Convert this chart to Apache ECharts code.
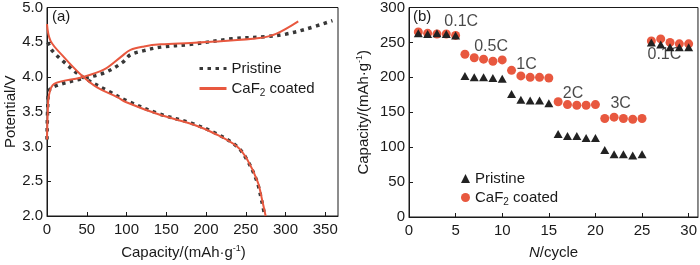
<!DOCTYPE html>
<html>
<head>
<meta charset="utf-8">
<script src="https://cdn.jsdelivr.net/npm/echarts@6/dist/echarts.min.js"></script>
<style>
html,body{margin:0;padding:0;background:#fff;}
#chart{width:700px;height:265px;}
</style>
</head>
<body>
<div id="chart"></div>
<script>
// (a) charge / discharge curves: capacity (mAh/g) and potential (V)
var pristineChargeCap = [0, 1, 2.5, 13, 42, 72, 95, 105, 122, 143, 181, 233, 275, 301, 326, 359];
var pristineChargeV   = [3.1, 3.6, 3.8, 3.88, 3.97, 4.06, 4.21, 4.32, 4.38, 4.43, 4.47, 4.55, 4.58, 4.62, 4.69, 4.81];
var pristineDisCap = [1, 6.5, 19, 42, 80, 100, 141, 183, 212, 238, 251, 264, 270, 274];
var pristineDisV   = [4.5, 4.38, 4.24, 4.02, 3.78, 3.66, 3.47, 3.33, 3.19, 3.01, 2.82, 2.5, 2.22, 2.0];
var coatedChargeCap = [0, 1, 2.5, 9, 42, 72, 93, 105, 122, 143, 181, 212, 267, 288, 316];
var coatedChargeV   = [3.1, 3.5, 3.74, 3.9, 3.99, 4.11, 4.29, 4.39, 4.44, 4.47, 4.49, 4.51, 4.56, 4.62, 4.8];
var coatedDisCap = [0, 4.5, 21, 42, 63, 88.5, 99, 141, 183, 212, 239, 252, 265, 271, 275];
var coatedDisV   = [4.76, 4.52, 4.29, 4.04, 3.85, 3.71, 3.64, 3.46, 3.32, 3.18, 3.0, 2.81, 2.49, 2.21, 2.0];

// (b) rate capability: capacity (mAh/g) per cycle
var cycles = [1,2,3,4,5,6,7,8,9,10,11,12,13,14,15,16,17,18,19,20,21,22,23,24,25,26,27,28,29,30];
var pristineRate = [263,262,263,262,260, 202,200,200,199,198, 176,168,167,167,163, 119,116,116,113,113, 96,90,90,88,90, 250,247,243,243,243];
var coatedRate   = [265,263,262,262,260, 233,228,226,223,225, 210,202,200,200,199, 165,161,160,160,161, 141,143,141,140,141, 252,255,250,248,248];

// rate labels (cycle, capacity)
var rateNames = ['0.1C', '0.5C', '1C', '2C', '3C', '0.1C'];
var rateX = [5.6, 8.8, 12.6, 17.6, 22.7, 27.4];
var rateY = [280, 244, 218, 177, 163, 232];

var legendText = {
    'Pristine': '{n|Pristine}',
    'CaF2 coated': '{n|CaF}{s|2}{n| coated}',
    'Pristine-b': '{n|Pristine}',
    'CaF2 coated-b': '{n|CaF}{s|2}{n| coated}'
};

function zip(a, b){
    var out = [];
    for (var i = 0; i < a.length; i++) out.push([a[i], b[i]]);
    return out;
}

var FONT = '"Liberation Sans", Arial, sans-serif';
var INK = '#1a1a1a';
var RED = '#e8583f';
var DOT = '#383838';

var richLegend = {
    n: {fontSize: 15, fontFamily: FONT, color: INK},
    s: {fontSize: 10, fontFamily: FONT, color: INK, padding: [9, 0, 0, 0]}
};

function baseAxis(){
    return {
        axisLine: {show: true, lineStyle: {color: INK, width: 1}},
        axisTick: {show: true, inside: true, length: 4, lineStyle: {color: INK}},
        splitLine: {show: false},
        axisLabel: {color: INK, fontSize: 15, fontFamily: FONT},
        nameLocation: 'middle',
        nameTextStyle: {color: INK, fontSize: 15, fontFamily: FONT}
    };
}

var capRich = {
    n: {fontSize: 15, fontFamily: FONT, color: INK},
    sup: {fontSize: 9, fontFamily: FONT, color: INK, padding: [0, 0, 8, 0]}
};

var xa = Object.assign(baseAxis(), {
    gridIndex: 0, type: 'value', min: 0, max: 366, interval: 50,
    name: '{n|Capacity/(mAh·g}{sup|-1}{n|)}', nameGap: 28
});
xa.axisLabel = Object.assign({}, xa.axisLabel, {margin: 6, showMaxLabel: false});
xa.nameTextStyle = Object.assign({}, xa.nameTextStyle, {rich: capRich, padding: [0, 18, 0, 0]});

var ya = Object.assign(baseAxis(), {
    gridIndex: 0, type: 'value', min: 2, max: 5, interval: 0.5,
    name: 'Potential/V', nameGap: 27
});
ya.axisLabel = Object.assign({}, ya.axisLabel, {margin: 4, formatter: function(v){ return v.toFixed(1); }});

var xb = Object.assign(baseAxis(), {
    gridIndex: 1, type: 'value', min: 0, max: 31, interval: 5,
    name: '{i|N}{n|/cycle}', nameGap: 28
});
xb.axisLabel = Object.assign({}, xb.axisLabel, {margin: 6, showMaxLabel: false});
xb.nameTextStyle = Object.assign({}, xb.nameTextStyle, {rich: {
    n: {fontSize: 15, fontFamily: FONT, color: INK},
    i: {fontSize: 15, fontFamily: FONT, color: INK, fontStyle: 'italic'}
}});

var yb = Object.assign(baseAxis(), {
    gridIndex: 1, type: 'value', min: 0, max: 300, interval: 50,
    name: '{n|Capacity/(mAh·g}{sup|-1}{n|)}', nameGap: 37
});
yb.axisLabel = Object.assign({}, yb.axisLabel, {margin: 4});
yb.nameTextStyle = Object.assign({}, yb.nameTextStyle, {rich: capRich});

function curve(name, data, dotted){
    return {
        name: name, type: 'line', xAxisIndex: 0, yAxisIndex: 0,
        data: data, symbol: 'none', smooth: 0.35, silent: true,
        lineStyle: dotted ? {color: DOT, width: 3.5, type: [3.5, 4.5], cap: 'butt'} : {color: RED, width: 2},
        itemStyle: {color: dotted ? DOT : RED},
        z: dotted ? 2 : 3
    };
}

var chart = echarts.init(document.getElementById('chart'), null, {renderer: 'canvas'});
var option = {
    animation: false,
    backgroundColor: '#fff',
    grid: [
        {left: 47, top: 6, width: 291, height: 217, show: true, borderColor: INK, borderWidth: 1, backgroundColor: 'transparent'},
        {left: 409, top: 7, width: 289, height: 217, show: true, borderColor: INK, borderWidth: 1, backgroundColor: 'transparent'}
    ],
    xAxis: [xa, xb],
    yAxis: [ya, yb],
    legend: [
        {
            data: ['Pristine', 'CaF2 coated'], orient: 'vertical', left: 193, top: 56,
            itemWidth: 27, itemHeight: 12, itemGap: 5,
            itemStyle: {opacity: 0},
            lineStyle: {width: 3},
            formatter: function(n){ return legendText[n]; },
            textStyle: {rich: richLegend}, selectedMode: false
        },
        {
            data: ['Pristine-b', 'CaF2 coated-b'], orient: 'vertical', left: 456, top: 166,
            itemWidth: 9, itemHeight: 9, itemGap: 4,
            formatter: function(n){ return legendText[n]; },
            textStyle: {rich: richLegend}, selectedMode: false
        }
    ],
    graphic: [
        {type: 'text', left: 52, top: 9, style: {text: '(a)', fontSize: 15, fontFamily: FONT, fill: INK}},
        {type: 'text', left: 413, top: 9, style: {text: '(b)', fontSize: 15, fontFamily: FONT, fill: INK}}
    ],
    series: [
        curve('Pristine', zip(pristineChargeCap, pristineChargeV), true),
        curve('Pristine', zip(pristineDisCap, pristineDisV), true),
        curve('CaF2 coated', zip(coatedChargeCap, coatedChargeV), false),
        curve('CaF2 coated', zip(coatedDisCap, coatedDisV), false),
        {
            name: 'CaF2 coated-b', type: 'scatter', xAxisIndex: 1, yAxisIndex: 1,
            data: zip(cycles, coatedRate), symbol: 'circle', symbolSize: 9,
            itemStyle: {color: RED, opacity: 1}, z: 2, silent: true
        },
        {
            name: 'Pristine-b', type: 'scatter', xAxisIndex: 1, yAxisIndex: 1,
            data: zip(cycles, pristineRate), symbol: 'triangle', symbolSize: [9, 8],
            itemStyle: {color: '#222', opacity: 1}, z: 3, silent: true
        },
        {
            name: 'rates', type: 'scatter', xAxisIndex: 1, yAxisIndex: 1,
            data: rateNames.map(function(n, i){ return {name: n, value: [rateX[i], rateY[i]]}; }),
            symbolSize: 0, silent: true, z: 4,
            label: {show: true, position: 'inside', formatter: '{b}', color: INK, fontSize: 16, fontFamily: FONT}
        }
    ]
};
chart.setOption(option);
</script>
</body>
</html>
